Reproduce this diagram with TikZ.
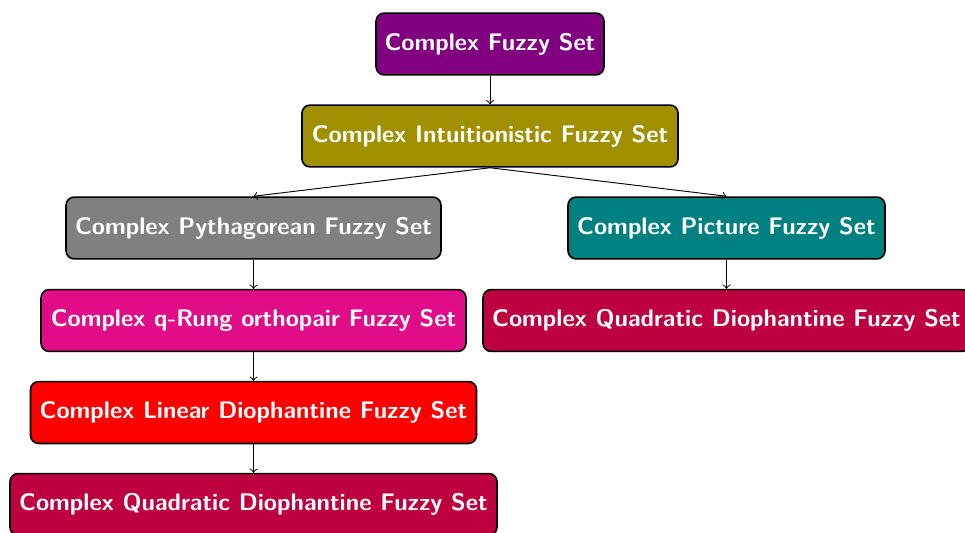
\documentclass[tikz,border=0pt]{standalone}
\definecolor{cOlive}{RGB}{160,144,0}
\definecolor{cPink}{RGB}{224,12,136}
\definecolor{cCrimson}{RGB}{191,0,64}
\definecolor{cViolet}{RGB}{128,0,128}
\definecolor{cTeal}{RGB}{0,128,128}
\definecolor{cGray}{RGB}{128,128,128}
\begin{document}
\begin{tikzpicture}[x=0.43pt,y=-0.43pt,
  box/.style={draw=black, line width=0.7pt, rounded corners=3.5pt, text=white,
    font=\sffamily\bfseries\fontsize{10.3}{12}\selectfont, minimum height=26.6pt, inner xsep=3.5pt},
  arr/.style={->, line width=0.4pt}]
\useasboundingbox (0,0) rectangle (965,532);
\node[box, fill=cViolet, minimum width=98pt] (cfs) at (490,44) {Complex Fuzzy Set};
\node[box, fill=cOlive, minimum width=161.7pt] (cifs) at (490,136) {Complex Intuitionistic Fuzzy Set};
\node[box, fill=cGray, minimum width=161.2pt] (cpyfs) at (253.5,228) {Complex Pythagorean Fuzzy Set};
\node[box, fill=cTeal, minimum width=136.3pt] (cpfs) at (726.5,228) {Complex Picture Fuzzy Set};
\node[box, fill=cPink, minimum width=182.7pt] (cqfs) at (253.5,320.5) {Complex q-Rung orthopair Fuzzy Set};
\node[box, fill=cCrimson, minimum width=209.4pt] (cqdr) at (726.5,320.5) {Complex Quadratic Diophantine Fuzzy Set};
\node[box, fill=red, minimum width=191.8pt] (cldfs) at (253.5,412.5) {Complex Linear Diophantine Fuzzy Set};
\node[box, fill=cCrimson, minimum width=209.4pt] (cqdl) at (253.5,504.5) {Complex Quadratic Diophantine Fuzzy Set};
\draw[arr] (cfs.south) -- (cifs.north);
\draw[arr] (cifs.south) -- (cpyfs.north);
\draw[arr] (cifs.south) -- (cpfs.north);
\draw[arr] (cpyfs.south) -- (cqfs.north);
\draw[arr] (cpfs.south) -- (cqdr.north);
\draw[arr] (cqfs.south) -- (cldfs.north);
\draw[arr] (cldfs.south) -- (cqdl.north);
\end{tikzpicture}
\end{document}
